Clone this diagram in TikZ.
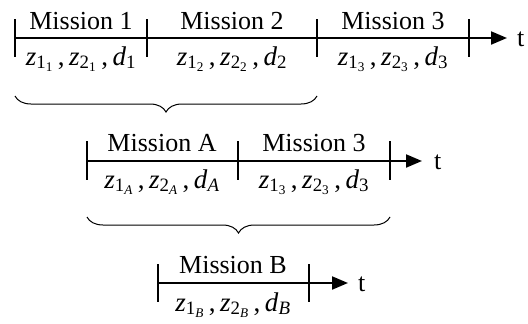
\documentclass[tikz,border=0pt]{standalone}
\usepackage{fontspec}
\setmainfont{Liberation Serif}
\usetikzlibrary{arrows.meta,decorations.pathreplacing}
\newcommand\zs[2]{\textit{z}\textsubscript{#1\textsubscript{#2}}}
\newcommand\dd[1]{\textit{d}\textsubscript{#1}}
\newcommand\lab[2]{\zs{1}{#1}\,,\,\zs{2}{#1}\,,\,\dd{#2}}
\tikzset{
  axis/.style={line width=2pt,-{Triangle[length=16pt,width=13pt]}},
  tick/.style={line width=2pt},
  mtext/.style={inner sep=0pt,anchor=base,font=\fontsize{26}{28}\selectfont},
  ztext/.style={inner sep=0pt,anchor=base,font=\fontsize{27}{28}\selectfont},
  tlab/.style={inner sep=0pt,anchor=base west,font=\fontsize{26}{28}\selectfont},
  bracebr/.style={line width=1pt,decorate,decoration={brace,mirror,amplitude=16pt}}
}
\begin{document}
\begin{tikzpicture}[x=1pt,y=-1pt]
\useasboundingbox (0,0) rectangle (528,324);
% Row 1
\coordinate (r1s) at (15,38); \coordinate (r1e) at (507,38);
\draw[axis] (r1s) -- (r1e);
\foreach \n/\x in {a/15,b/147,c/317,d/469}{
  \coordinate (t1\n u) at (\x,19); \coordinate (t1\n d) at (\x,57);
  \draw[tick] (t1\n u) -- (t1\n d);}
\node[tlab] (t1) at (517,46) {t};
\node[mtext] (m1) at (81,29) {Mission 1};
\node[mtext] (m2) at (232,29) {Mission 2};
\node[mtext] (m3) at (393,29) {Mission 3};
\node[ztext] (z1) at (81,65) {\lab{1}{1}};
\node[ztext] (z2) at (232,65) {\lab{2}{2}};
\node[ztext] (z3) at (393,65) {\lab{3}{3}};
% Brace 1
\coordinate (b1l) at (15,96); \coordinate (b1r) at (317,96);
\draw[bracebr] (b1l) -- (b1r);
% Row 2
\coordinate (r2s) at (87,161); \coordinate (r2e) at (422,161);
\draw[axis] (r2s) -- (r2e);
\foreach \n/\x in {a/87,b/238,c/390}{
  \coordinate (t2\n u) at (\x,141); \coordinate (t2\n d) at (\x,180);
  \draw[tick] (t2\n u) -- (t2\n d);}
\node[tlab] (t2) at (434,169) {t};
\node[mtext] (mA) at (162,151) {Mission A};
\node[mtext] (m3b) at (314,151) {Mission 3};
\node[ztext] (zA) at (162,188) {\zs{1}{\textit{A}}\,,\,\zs{2}{\textit{A}}\,,\,\dd{\textit{A}}};
\node[ztext] (z3b) at (314,188) {\lab{3}{3}};
% Brace 2
\coordinate (b2l) at (87,217); \coordinate (b2r) at (390,217);
\draw[bracebr] (b2l) -- (b2r);
% Row 3
\coordinate (r3s) at (158,283); \coordinate (r3e) at (348,283);
\draw[axis] (r3s) -- (r3e);
\foreach \n/\x in {a/158,b/309}{
  \coordinate (t3\n u) at (\x,264); \coordinate (t3\n d) at (\x,302);
  \draw[tick] (t3\n u) -- (t3\n d);}
\node[tlab] (t3) at (358,291) {t};
\node[mtext] (mB) at (233,273) {Mission B};
\node[ztext] (zB) at (233,311) {\zs{1}{\textit{B}}\,,\,\zs{2}{\textit{B}}\,,\,\dd{\textit{B}}};
\end{tikzpicture}
\end{document}
